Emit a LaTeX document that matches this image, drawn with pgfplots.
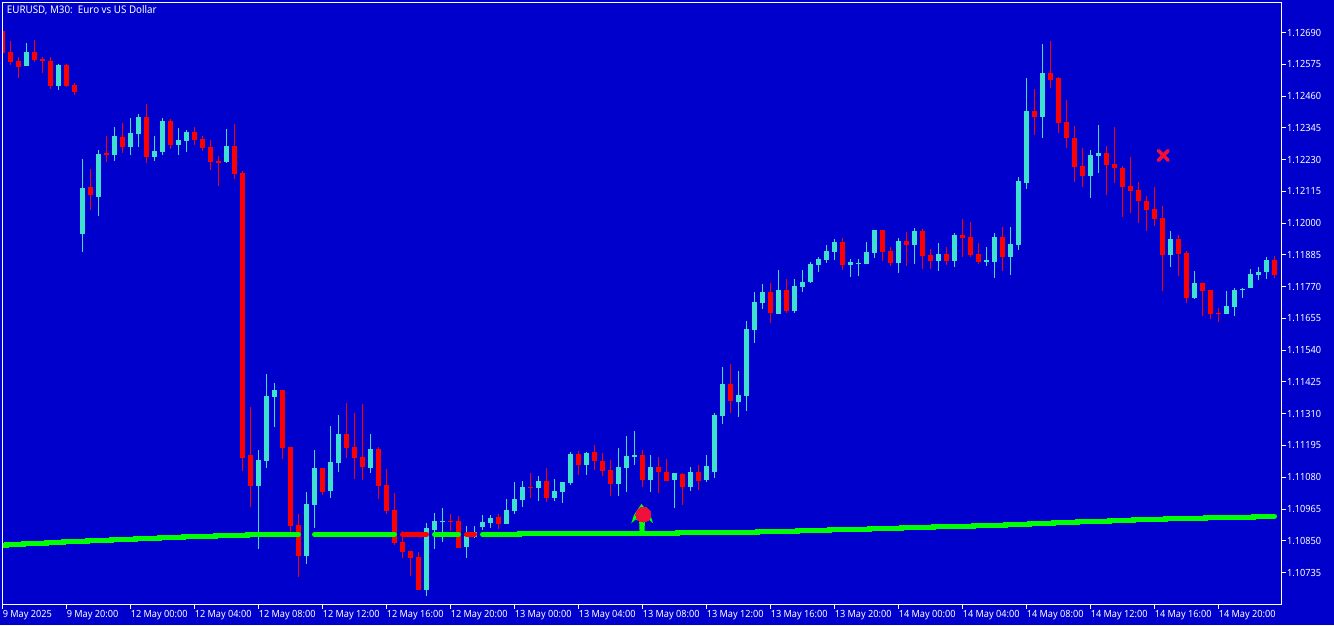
\documentclass[border=0pt]{standalone}
\usepackage{fontspec}
\setmainfont[FakeStretch=0.93]{Noto Sans}
\usepackage{pgfplots}
\usepackage{pgfplotstable}
\pgfplotsset{compat=1.18}

\definecolor{chartbg}{RGB}{0,0,205}
\definecolor{bull}{RGB}{64,224,208}
\definecolor{bear}{RGB}{255,0,0}
\definecolor{maline}{RGB}{0,255,0}
\definecolor{signal}{RGB}{240,16,60}

% x = bar number (8 px apart), prices
\pgfplotstableread{
x o h l c
0 1.12695 1.12695 1.12617 1.12617
1 1.12620 1.12658 1.12574 1.12585
2 1.12587 1.12600 1.12527 1.12565
4 1.12620 1.12663 1.12585 1.12592
5 1.12594 1.12602 1.12545 1.12587
6 1.12587 1.12600 1.12486 1.12498
8 1.12573 1.12576 1.12493 1.12498
9 1.12500 1.12507 1.12464 1.12476
11 1.12131 1.12196 1.12049 1.12100
13 1.12254 1.12316 1.12223 1.12247
15 1.12312 1.12363 1.12252 1.12276
18 1.12384 1.12431 1.12219 1.12240
21 1.12370 1.12377 1.12269 1.12283
24 1.12330 1.12348 1.12283 1.12301
25 1.12305 1.12316 1.12261 1.12272
26 1.12276 1.12301 1.12194 1.12221
27 1.12225 1.12243 1.12136 1.12218
29 1.12279 1.12359 1.12160 1.12179
30 1.12182 1.12189 1.11104 1.11151
31 1.11161 1.11334 1.10974 1.11050
35 1.11396 1.11396 1.11147 1.11187
36 1.11190 1.11190 1.10877 1.10905
37 1.10907 1.10947 1.10720 1.10796
40 1.11113 1.11113 1.11017 1.11028
43 1.11237 1.11349 1.11151 1.11187
44 1.11190 1.11313 1.11075 1.11151
45 1.11153 1.11345 1.11071 1.11118
47 1.11182 1.11190 1.11002 1.11050
48 1.11052 1.11110 1.10948 1.10959
49 1.10961 1.11023 1.10836 1.10843
50 1.10846 1.10884 1.10789 1.10811
51 1.10813 1.10813 1.10724 1.10789
52 1.10791 1.10809 1.10673 1.10673
56 1.10922 1.10947 1.10887 1.10919
57 1.10922 1.10940 1.10825 1.10825
62 1.10936 1.10947 1.10893 1.10911
66 1.11045 1.11095 1.11005 1.11041
68 1.11066 1.11113 1.10990 1.11005
72 1.11164 1.11175 1.11088 1.11124
74 1.11171 1.11197 1.11106 1.11139
75 1.11139 1.11168 1.11085 1.11103
76 1.11106 1.11142 1.11012 1.11056
80 1.11161 1.11179 1.11045 1.11070
82 1.11117 1.11153 1.11023 1.11099
83 1.11099 1.11146 1.11066 1.11066
85 1.11092 1.11095 1.10980 1.11045
87 1.11099 1.11124 1.11034 1.11066
91 1.11418 1.11490 1.11313 1.11356
96 1.11751 1.11783 1.11638 1.11675
98 1.11758 1.11798 1.11675 1.11682
105 1.11932 1.11946 1.11830 1.11848
110 1.11975 1.11975 1.11863 1.11895
111 1.11899 1.11914 1.11845 1.11856
113 1.11935 1.11968 1.11845 1.11921
115 1.11971 1.11979 1.11834 1.11881
116 1.11884 1.11906 1.11834 1.11863
118 1.11888 1.11914 1.11848 1.11863
120 1.11957 1.12015 1.11877 1.11946
121 1.11950 1.12004 1.11877 1.11884
122 1.11888 1.11928 1.11852 1.11859
125 1.11950 1.11986 1.11827 1.11877
129 1.12406 1.12485 1.12319 1.12384
131 1.12543 1.12659 1.12489 1.12518
132 1.12525 1.12529 1.12326 1.12362
133 1.12366 1.12446 1.12272 1.12308
134 1.12308 1.12351 1.12149 1.12203
135 1.12207 1.12272 1.12131 1.12170
138 1.12254 1.12279 1.12102 1.12210
139 1.12214 1.12348 1.12145 1.12199
140 1.12199 1.12207 1.12022 1.12131
141 1.12134 1.12239 1.12037 1.12116
142 1.12120 1.12149 1.12000 1.12080
143 1.12080 1.12098 1.11971 1.12047
144 1.12051 1.12131 1.11989 1.12015
145 1.12018 1.12062 1.11754 1.11884
147 1.11942 1.11957 1.11808 1.11889
148 1.11892 1.11899 1.11711 1.11729
150 1.11783 1.11783 1.11664 1.11754
151 1.11758 1.11758 1.11653 1.11671
152 1.11675 1.11693 1.11642 1.11671
159 1.11866 1.11881 1.11801 1.11812
}\bearbars

\pgfplotstableread{
x o h l c
3 1.12567 1.12652 1.12567 1.12620
7 1.12498 1.12576 1.12483 1.12573
10 1.11962 1.12232 1.11897 1.12127
12 1.12096 1.12265 1.12027 1.12250
14 1.12247 1.12348 1.12226 1.12316
16 1.12276 1.12381 1.12247 1.12327
17 1.12323 1.12395 1.12276 1.12384
19 1.12240 1.12316 1.12226 1.12261
20 1.12258 1.12381 1.12247 1.12370
22 1.12283 1.12345 1.12247 1.12301
23 1.12298 1.12337 1.12258 1.12330
28 1.12221 1.12341 1.12218 1.12279
32 1.11050 1.11179 1.10821 1.11142
33 1.11140 1.11454 1.11115 1.11374
34 1.11370 1.11421 1.11263 1.11396
38 1.10796 1.11027 1.10767 1.10983
39 1.10981 1.11179 1.10897 1.11113
41 1.11031 1.11266 1.11006 1.11135
42 1.11133 1.11305 1.11100 1.11237
46 1.11115 1.11237 1.11097 1.11182
53 1.10673 1.10914 1.10651 1.10896
54 1.10889 1.10951 1.10821 1.10922
55 1.10918 1.10969 1.10847 1.10922
58 1.10829 1.10904 1.10789 1.10867
59 1.10865 1.10904 1.10859 1.10882
60 1.10900 1.10943 1.10889 1.10918
61 1.10914 1.10943 1.10896 1.10932
63 1.10911 1.11001 1.10911 1.10961
64 1.10958 1.11063 1.10947 1.11001
65 1.10998 1.11066 1.10972 1.11045
67 1.11041 1.11085 1.10994 1.11066
69 1.11005 1.11074 1.10994 1.11030
70 1.11027 1.11063 1.10987 1.11063
71 1.11059 1.11171 1.11052 1.11164
73 1.11124 1.11171 1.11088 1.11168
77 1.11056 1.11186 1.11012 1.11117
78 1.11113 1.11229 1.11027 1.11157
79 1.11153 1.11247 1.11124 1.11161
81 1.11070 1.11161 1.11027 1.11117
84 1.11070 1.11095 1.10969 1.11095
86 1.11045 1.11117 1.11030 1.11099
88 1.11070 1.11161 1.11063 1.11121
89 1.11099 1.11313 1.11077 1.11305
90 1.11303 1.11479 1.11273 1.11418
92 1.11352 1.11465 1.11298 1.11378
93 1.11374 1.11646 1.11320 1.11617
94 1.11613 1.11751 1.11566 1.11714
95 1.11711 1.11780 1.11689 1.11751
97 1.11671 1.11830 1.11671 1.11758
99 1.11682 1.11798 1.11675 1.11772
100 1.11769 1.11830 1.11751 1.11787
101 1.11787 1.11859 1.11783 1.11852
102 1.11848 1.11877 1.11823 1.11870
103 1.11866 1.11921 1.11856 1.11899
104 1.11895 1.11942 1.11866 1.11932
106 1.11848 1.11870 1.11805 1.11859
107 1.11852 1.11870 1.11809 1.11856
108 1.11852 1.11932 1.11852 1.11895
109 1.11892 1.11975 1.11874 1.11975
112 1.11856 1.11946 1.11819 1.11935
114 1.11921 1.11982 1.11852 1.11971
117 1.11863 1.11928 1.11827 1.11888
119 1.11863 1.11964 1.11841 1.11957
123 1.11859 1.11914 1.11845 1.11866
124 1.11859 1.11964 1.11801 1.11950
126 1.11877 1.11986 1.11812 1.11924
127 1.11921 1.12167 1.11903 1.12152
128 1.12145 1.12525 1.12123 1.12406
130 1.12384 1.12648 1.12308 1.12543
136 1.12170 1.12265 1.12091 1.12246
137 1.12243 1.12355 1.12181 1.12254
146 1.11884 1.11971 1.11841 1.11942
149 1.11729 1.11827 1.11725 1.11783
153 1.11671 1.11754 1.11671 1.11700
154 1.11696 1.11765 1.11664 1.11758
155 1.11758 1.11765 1.11729 1.11761
156 1.11765 1.11834 1.11765 1.11816
157 1.11812 1.11841 1.11794 1.11823
158 1.11823 1.11877 1.11798 1.11866
}\bullbars

% up arrow of the signal, drawn around its anchor at the foot of the stem
\pgfdeclareplotmark{sigarrow}{%
  \pgfpathmoveto{\pgfqpoint{-0.75pt}{21pt}}%
  \pgfpathlineto{\pgfqpoint{5.8pt}{12.75pt}}%
  \pgfpathlineto{\pgfqpoint{8pt}{6.5pt}}%
  \pgfpathlineto{\pgfqpoint{4.5pt}{9.5pt}}%
  \pgfpathlineto{\pgfqpoint{1.8pt}{8pt}}%
  \pgfpathlineto{\pgfqpoint{1.5pt}{0pt}}%
  \pgfpathlineto{\pgfqpoint{-2.2pt}{0pt}}%
  \pgfpathlineto{\pgfqpoint{-2.5pt}{8pt}}%
  \pgfpathlineto{\pgfqpoint{-5pt}{9.5pt}}%
  \pgfpathlineto{\pgfqpoint{-8.4pt}{6.5pt}}%
  \pgfpathlineto{\pgfqpoint{-6.4pt}{12.75pt}}%
  \pgfpathclose
  \pgfusepathqfill
}

\begin{document}
\begin{tikzpicture}
\path[use as bounding box, fill=chartbg] (0,0) rectangle (1000.5pt,468.75pt);
\begin{axis}[
    at={(1.875pt,15.375pt)}, anchor=south west,
    scale only axis,
    width=959.25pt, height=451.5pt,
    xmin=0, xmax=159.875,
    ymin=1.106194, ymax=1.127986,
    axis on top,
    axis line style={white, line width=0.75pt},
    tick style={white, line width=0.75pt},
    tick align=outside,
    major tick length=3pt,
    xtick pos=bottom, ytick pos=right,
    xtick={0,8,...,152},
    xticklabels={9 May 2025,9 May 20:00,12 May 00:00,12 May 04:00,12 May 08:00,12 May 12:00,12 May 16:00,12 May 20:00,13 May 00:00,13 May 04:00,13 May 08:00,13 May 12:00,13 May 16:00,13 May 20:00,14 May 00:00,14 May 04:00,14 May 08:00,14 May 12:00,14 May 16:00,14 May 20:00},
    ytick={1.10735,1.10850,1.10965,1.11080,1.11195,1.11310,1.11425,1.11540,1.11655,1.11770,1.11885,1.12000,1.12115,1.12230,1.12345,1.12460,1.12575,1.12690},
    yticklabels={1.10735,1.10850,1.10965,1.11080,1.11195,1.11310,1.11425,1.11540,1.11655,1.11770,1.11885,1.12000,1.12115,1.12230,1.12345,1.12460,1.12575,1.12690},
    x tick label style={font=\fontsize{7.4pt}{9pt}\selectfont, text=white, anchor=north west, inner sep=0pt, xshift=0pt, yshift=-1.5pt},
    y tick label style={font=\fontsize{7.4pt}{9pt}\selectfont, text=white, anchor=west, inner sep=0pt, xshift=1pt},
]
% wicks
\addplot[draw=none, mark=none, forget plot,
    error bars/.cd, y dir=both, y explicit, error mark=none,
    error bar style={draw=bear, line width=0.75pt}]
    table[x=x, y=o, y error plus expr=\thisrow{h}-\thisrow{o}, y error minus expr=\thisrow{o}-\thisrow{l}] {\bearbars};
\addplot[draw=none, mark=none, forget plot,
    error bars/.cd, y dir=both, y explicit, error mark=none,
    error bar style={draw=bull, line width=0.75pt}]
    table[x=x, y=o, y error plus expr=\thisrow{h}-\thisrow{o}, y error minus expr=\thisrow{o}-\thisrow{l}] {\bullbars};
% bodies
\addplot[draw=none, mark=none, forget plot,
    error bars/.cd, y dir=minus, y explicit, error mark=none,
    error bar style={draw=bear, line width=3.75pt}]
    table[x=x, y=o, y error minus expr=\thisrow{o}-\thisrow{c}] {\bearbars};
\addplot[draw=none, mark=none, forget plot,
    error bars/.cd, y dir=plus, y explicit, error mark=none,
    error bar style={draw=bull, line width=3.75pt}]
    table[x=x, y=o, y error plus expr=\thisrow{c}-\thisrow{o}] {\bullbars};

% moving average, coloured by segment
\pgfplotsset{ma/.style={const plot, mark=none, line width=3.75pt, line cap=round, forget plot}}
\addplot[ma, maline] coordinates {
    (0,1.108337) (0.45,1.108373) (2.6,1.108409) (5.5,1.108446) (7.6,1.108482) (10.6,1.108518)
    (13.6,1.108554) (16.6,1.108590) (19.6,1.108626) (22.6,1.108663) (26.6,1.108699) (30.6,1.108735) (37,1.108735)};
\addplot[ma, maline] coordinates {(39,1.108735) (49,1.108735)};
\addplot[ma, bear] coordinates {(50,1.108735) (53,1.108735)};
\addplot[ma, maline] coordinates {(54,1.108735) (57,1.108735)};
\addplot[ma, bear] coordinates {(58,1.108735) (59,1.108735)};
\addplot[ma, maline] coordinates {
    (60,1.108735) (64.6,1.108771) (84.4,1.108807) (94.4,1.108843) (99.4,1.108880) (103.4,1.108916)
    (108.4,1.108952) (112.4,1.108988) (116.4,1.109024) (121.4,1.109060) (125.4,1.109097) (128.4,1.109133)
    (131.4,1.109169) (134.4,1.109205) (138.4,1.109241) (141.4,1.109277) (145.4,1.109314) (150.4,1.109350)
    (156.4,1.109386) (159,1.109386)};

% signals
\addplot[only marks, mark=sigarrow, mark options={fill=maline, draw=none}, forget plot] coordinates {(80,1.10882)};
\addplot[only marks, mark=*, mark size=5.6pt, mark options={fill=signal, draw=signal, line width=0pt}, forget plot] coordinates {(80.1,1.10945)};
\addplot[only marks, mark=x, mark size=5.2pt, mark options={draw=signal, line width=2.7pt, line cap=round}, forget plot] coordinates {(145.1,1.12245)};
\end{axis}
\node[anchor=west, inner sep=0pt, text=white, font=\fontsize{7.9pt}{9pt}\selectfont] at (5pt,460.8pt) {EURUSD, M30:\ \ Euro vs US Dollar};
\end{tikzpicture}
\end{document}
